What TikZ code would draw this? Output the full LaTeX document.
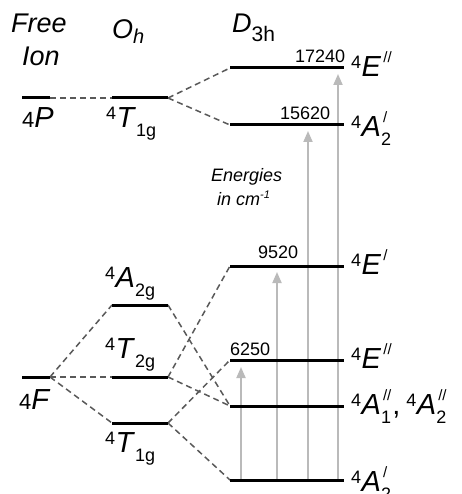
\documentclass[tikz,border=0pt]{standalone}
\usepackage{fontspec}
\usepackage{calc}
\setmainfont{Liberation Sans}
\usetikzlibrary{arrows.meta}
\newcommand{\fs}[1]{\fontsize{#1}{#1}\selectfont}
\newcommand{\pr}{/}
\newlength{\subw}\newlength{\supw}
% #1 multiplicity, #2 letter, #3 subscript, #4 superscript
\newcommand{\trm}[4]{%
  \raisebox{8pt}{\fs{18}#1}\kern0.5pt\textit{#2}%
  \settowidth{\subw}{\fs{18}#3}\settowidth{\supw}{\fs{15}#4\kern2pt}%
  \makebox[0pt][l]{\raisebox{-9pt}{\fs{18}#3}}%
  \makebox[0pt][l]{\raisebox{14pt}{\fs{15}\kern2pt#4}}%
  \hspace{\maxof{\subw}{\supw}}}
\tikzset{
  lvl/.style={line width=3pt},
  dsh/.style={line width=1.5pt, draw=black!65, dash pattern=on 6pt off 4pt},
  arr/.style={line width=1.8pt, draw=black!27, -{Triangle[width=9pt,length=11pt,fill=black!27]}},
  num/.style={anchor=base west, inner sep=0pt, font=\fs{18}},
  lab/.style={anchor=base west, inner sep=0pt, font=\fs{29}},
  hdr/.style={anchor=base west, inner sep=0pt, font=\fs{27}\itshape},
  note/.style={anchor=base west, inner sep=0pt, font=\fs{18}\itshape},
}
\begin{document}
\begin{tikzpicture}[x=1pt,y=-1pt]
\useasboundingbox[fill=white] (0,0) rectangle (461,494);
% level end points
\coordinate (PfL) at (22,98);  \coordinate (PfR) at (50,98);
\coordinate (PoL) at (112,98); \coordinate (PoR) at (168,98);
\coordinate (FfL) at (22,377); \coordinate (FfR) at (50,377);
\coordinate (AgL) at (112,305); \coordinate (AgR) at (168,305);
\coordinate (TtL) at (112,377); \coordinate (TtR) at (168,377);
\coordinate (ToL) at (112,423); \coordinate (ToR) at (168,423);
\coordinate (D1L) at (230,68);  \coordinate (D1R) at (344,68);
\coordinate (D2L) at (230,125); \coordinate (D2R) at (344,125);
\coordinate (D3L) at (230,266); \coordinate (D3R) at (344,266);
\coordinate (D4L) at (230,360); \coordinate (D4R) at (344,360);
\coordinate (D5L) at (230,406); \coordinate (D5R) at (344,406);
\coordinate (D6L) at (230,480); \coordinate (D6R) at (344,480);
% arrow ends
\coordinate (g1) at (241,479); \coordinate (t1) at (241,367);
\coordinate (g2) at (277,479); \coordinate (t2) at (277,272);
\coordinate (g3) at (308,479); \coordinate (t3) at (308,131);
\coordinate (g4) at (338,479); \coordinate (t4) at (338,74);
% arrows
\draw[arr] (g1) -- (t1);
\draw[arr] (g2) -- (t2);
\draw[arr] (g3) -- (t3);
\draw[arr] (g4) -- (t4);
% correlation lines
\draw[dsh] (PfR) -- (PoL);
\draw[dsh] (PoR) -- (D1L);
\draw[dsh] (PoR) -- (D2L);
\draw[dsh] (FfR) -- (AgL);
\draw[dsh] (FfR) -- (TtL);
\draw[dsh] (FfR) -- (ToL);
\draw[dsh] (AgR) -- (D5L);
\draw[dsh] (TtR) -- (D3L);
\draw[dsh] (TtR) -- (D5L);
\draw[dsh] (ToR) -- (D4L);
\draw[dsh] (ToR) -- (D6L);
% levels
\foreach \a in {Pf,Po,Ff,Ag,Tt,To,D1,D2,D3,D4,D5,D6}
  \draw[lvl] (\a L) -- (\a R);
% headers
\node[hdr] (hfree) at (11,33) {Free};
\node[hdr] (hion) at (22,66) {Ion};
\node[hdr] (hoh) at (112,39) {O\raisebox{-5pt}{\fs{20}h}};
\node[hdr] (hd) at (232,33) {D\raisebox{-9pt}{\fs{21}\upshape 3h}};
% term labels
\node[lab] (lP) at (22,128) {{\fs{22}4}\textit{P}};
\node[lab] (lPo) at (106,128) {\trm{4}{T}{1g}{}};
\node[lab] (lD1) at (351,77) {\trm{4}{E}{}{\pr\pr}};
\node[lab] (lD2) at (351,137) {\trm{4}{A}{2}{\pr}};
\node[lab] (lD3) at (351,274) {\trm{4}{E}{}{\pr}};
\node[lab] (lD4) at (351,368) {\trm{4}{E}{}{\pr\pr}};
\node[lab] (lD5) at (351,414) {\trm{4}{A}{1}{\pr\pr}\kern1pt,\kern6pt\trm{4}{A}{2}{\pr\pr}};
\node[lab] (lD6) at (351,491) {\trm{4}{A}{2}{\pr}};
\node[lab] (lF) at (19,409) {{\fs{22}4}\textit{F}};
\node[lab] (lAg) at (105,287) {\trm{4}{A}{2g}{}};
\node[lab] (lTt) at (105,358) {\trm{4}{T}{2g}{}};
\node[lab] (lTo) at (105,452) {\trm{4}{T}{1g}{}};
% energies
\node[num] (n1) at (295,63) {17240};
\node[num] (n2) at (280,120) {15620};
\node[num] (n3) at (258,258) {9520};
\node[num] (n4) at (230,355) {6250};
\node[note] (e1) at (211,182) {Energies};
\node[note] (e2) at (217,205) {in cm\raisebox{7pt}{\fs{11}-1}};
\end{tikzpicture}
\end{document}
